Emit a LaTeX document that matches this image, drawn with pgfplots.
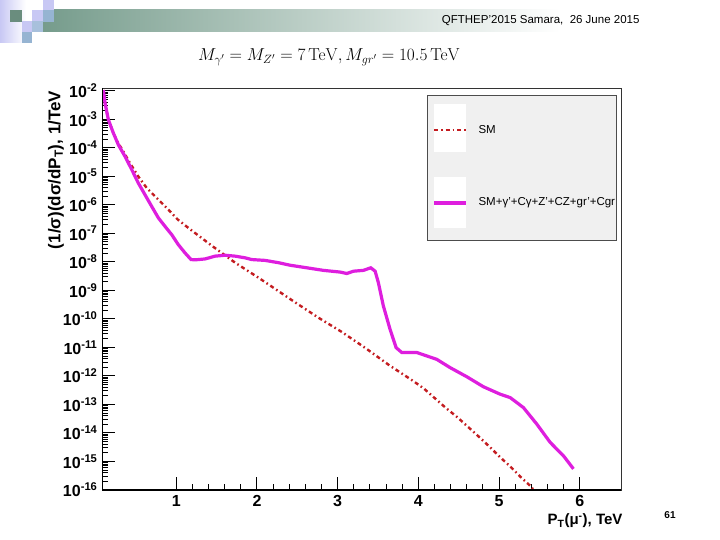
\documentclass[border=0pt]{standalone}
\usepackage[no-math]{fontspec}
\setmainfont{Liberation Sans}
\usepackage{pgfplots}
\pgfplotsset{compat=1.18}
\definecolor{smred}{RGB}{196,28,32}
\definecolor{bsm}{RGB}{222,30,222}
\definecolor{hdgreen}{RGB}{118,156,140}
\definecolor{lav}{RGB}{200,200,244}
\definecolor{lblue}{RGB}{168,192,220}
\definecolor{mblue}{RGB}{150,180,210}
\gdef\minorlist{2e-16}
\foreach \e in {-16,...,-3} {\foreach \m in {2,...,9} {\xdef\minorlist{\minorlist,\m e\e}}}
\begin{document}
\begin{tikzpicture}[x=1pt,y=1pt]
\useasboundingbox (0,0) rectangle (720,540);
\fill[white] (0,0) rectangle (720,540);
% header decoration
\shade[left color=hdgreen, right color=white] (43,508) rectangle (560,530);
\shade[left color=lav, right color=white] (0,497) rectangle (26,540);
\fill[hdgreen!90!black] (10,518) rectangle (22,530);
\fill[lav] (32,518) rectangle (43,530);
\fill[mblue] (43,518) rectangle (54,530);
\fill[lav] (43,530) rectangle (54,540);
\fill[lav] (22,508) rectangle (32,519);
\fill[lblue] (32,508) rectangle (43,519);
\fill[mblue] (22,497) rectangle (32,508);
\node[anchor=east,font=\fontsize{11.5}{13}\selectfont] at (643,519) {QFTHEP'2015 Samara,\ \ 26 June 2015};
\node[font=\fontsize{17.5}{20}\selectfont] at (329,483) {$M_{\gamma'} = M_{Z'} = 7\,\mathrm{TeV}, M_{gr'} = 10.5\,\mathrm{TeV}$};
\begin{axis}[
  at={(102pt,50pt)}, anchor=south west,
  scale only axis, width=519pt, height=402pt,
  xmin=0.08, xmax=6.51,
  ymode=log, log basis y=10,
  ymin=1e-16, ymax=1.24e-2,
  axis line style={draw=black!80, line width=0.8pt},
  xtick={1,2,3,4,5,6},
  xticklabels={\textbf{1},\textbf{2},\textbf{3},\textbf{4},\textbf{5},\textbf{6}},
  minor x tick num=4,
  ytickten={-16,...,-2},
  minor ytick/.expand once={\minorlist},
  yticklabel={\pgfmathparse{int(round(\tick))}\textbf{10\textsuperscript{\pgfmathresult}}},
  tick pos=left,
  tick align=inside,
  major tick length=13pt, minor tick length=6pt,
  tick style={black, line width=1pt},
  minor y tick style={black, line width=0.8pt},
  xticklabel style={font=\fontsize{16}{18}\selectfont, yshift=-2pt},
  yticklabel style={font=\fontsize{16}{18}\selectfont, xshift=-1pt},
  clip=true,
]
\addplot[smred, line width=2.4pt, dash pattern=on 4pt off 3pt on 1.6pt off 3pt] coordinates {
(0.097,1.05e-2) (0.118,3.63e-3) (0.159,9.55e-4) (0.221,3.24e-4) (0.283,1.41e-4)
(0.332,8.51e-5) (0.427,2.88e-5) (0.530,9.77e-6) (0.634,3.89e-6) (0.895,7.08e-7)
(1.019,3.02e-7) (1.162,1.45e-7) (1.307,7.08e-8) (1.447,3.55e-8) (1.729,9.33e-9)
(2.026,2.69e-9) (2.451,4.17e-10) (2.761,1.10e-10) (3.051,3.47e-11) (3.352,9.12e-12)
(3.641,2.34e-12) (3.931,6.76e-13) (4.062,3.72e-13) (4.343,7.41e-14) (4.483,3.55e-14)
(4.620,1.58e-14) (4.756,7.08e-15) (4.880,3.31e-15) (5.012,1.41e-15) (5.136,6.76e-16)
(5.269,2.82e-16) (5.384,1.41e-16) (5.43,1.0e-16)
};
\addplot[bsm, line width=3.2pt] coordinates {
(0.097,1.05e-2) (0.118,3.63e-3) (0.159,9.55e-4) (0.221,3.24e-4) (0.283,1.26e-4)
(0.366,4.90e-5) (0.449,1.70e-5) (0.530,5.75e-6) (0.613,2.24e-6) (0.696,8.71e-7)
(0.778,3.47e-7) (0.861,1.74e-7) (0.944,8.91e-8) (1.026,3.98e-8) (1.109,2.04e-8)
(1.183,1.20e-8) (1.233,1.17e-8) (1.357,1.26e-8) (1.481,1.58e-8) (1.605,1.70e-8)
(1.729,1.58e-8) (1.853,1.38e-8) (1.935,1.20e-8) (2.100,1.12e-8) (2.265,9.33e-9)
(2.410,7.59e-9) (2.617,6.17e-9) (2.823,5.01e-9) (3.030,4.37e-9) (3.113,3.89e-9)
(3.195,4.68e-9) (3.319,5.01e-9) (3.410,6.17e-9) (3.464,4.68e-9) (3.504,1.86e-9)
(3.566,2.82e-10) (3.649,4.27e-11) (3.724,9.77e-12) (3.794,6.61e-12) (3.980,6.61e-12)
(4.104,5.01e-12) (4.228,3.80e-12) (4.393,1.95e-12) (4.600,9.33e-13) (4.805,4.17e-13)
(5.012,2.29e-13) (5.136,1.74e-13) (5.301,7.76e-14) (5.467,2.04e-14) (5.632,4.68e-15)
(5.797,1.58e-15) (5.921,5.50e-16)
};
\draw[black, line width=2pt] (rel axis cs:0,1) -- (rel axis cs:0,0) -- (rel axis cs:1,0);
\end{axis}
% legend
\fill[black!6] (427,300) rectangle (616,445);
\draw[black!70, line width=0.8pt] (427,300) rectangle (616,445);
\fill[white] (434,388) rectangle (466,436);
\fill[white] (434,312) rectangle (466,363);
\draw[smred, line width=2.4pt, dash pattern=on 4pt off 3pt on 1.6pt off 3pt] (434,410) -- (466,410);
\draw[bsm, line width=3.2pt] (434,337) -- (466,337);
\node[anchor=west, font=\fontsize{11.5}{13}\selectfont] at (475,410) {SM};
\node[anchor=west, font=\fontsize{11.5}{13}\selectfont] at (475,337) {SM+γ'+Cγ+Z'+CZ+gr'+Cgr};
% axis labels
\node[rotate=90, font=\bfseries\fontsize{17}{19}\selectfont] at (56,370) {(1/σ)(dσ/dP\textsubscript{T}), 1/TeV};
\node[font=\bfseries\fontsize{15}{17}\selectfont] at (585,19) {P\textsubscript{T}(μ\textsuperscript{-}), TeV};
\node[font=\bfseries\fontsize{10}{12}\selectfont] at (670,25) {61};
\end{tikzpicture}
\end{document}
